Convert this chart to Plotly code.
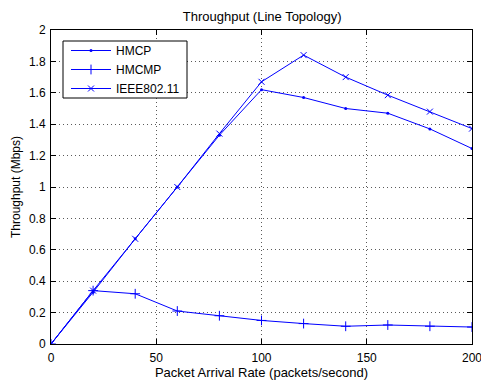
import plotly.graph_objects as go

rate = [0, 20, 40, 60, 80, 100, 120, 140, 160, 180, 200]
hmcp = [0, 0.33, 0.67, 1.00, 1.33, 1.62, 1.57, 1.50, 1.47, 1.37, 1.245]
hmcmp = [0, 0.34, 0.32, 0.21, 0.18, 0.15, 0.13, 0.113, 0.121, 0.113, 0.108]
ieee = [0, 0.34, 0.67, 1.00, 1.34, 1.67, 1.84, 1.70, 1.585, 1.48, 1.372]

blue = "rgb(0,0,255)"
fig = go.Figure()
fig.add_trace(go.Scatter(x=rate, y=hmcp, name="HMCP", mode="lines+markers",
                         line=dict(color=blue, width=1),
                         marker=dict(symbol="circle", size=3, color=blue)))
fig.add_trace(go.Scatter(x=rate, y=hmcmp, name="HMCMP", mode="lines+markers",
                         line=dict(color=blue, width=1),
                         marker=dict(symbol="cross-thin", size=7, color=blue,
                                     line=dict(color=blue, width=1))))
fig.add_trace(go.Scatter(x=rate, y=ieee, name="IEEE802.11", mode="lines+markers",
                         line=dict(color=blue, width=1),
                         marker=dict(symbol="x-thin", size=6, color=blue,
                                     line=dict(color=blue, width=1))))

axis_common = dict(showline=True, linecolor="black", linewidth=1, mirror="ticks",
                   ticks="inside", ticklen=5, tickcolor="black",
                   showgrid=True, gridcolor="rgb(90,90,90)", griddash="1px,3px", gridwidth=1,
                   zeroline=False, tickfont=dict(size=12, color="black"),
                   ticklabeloverflow="allow", automargin=False)

# plot area: 51..472 px horizontally, 30..344 px vertically
W, H = 481, 380
L, R, T, B = 51, 9, 30, 36
pw, ph = W - L - R, H - T - B

def px_x(p):
    return (p - L) / pw

def px_y(p):
    return (H - B - p) / ph

fig.update_layout(
    width=W, height=H,
    margin=dict(l=L, r=R, t=T, b=B, autoexpand=False),
    paper_bgcolor="white", plot_bgcolor="white",
    font=dict(family="Liberation Sans, Arial, sans-serif", size=12, color="black"),
    title=dict(text="Throughput (Line Topology)", x=0.545, xanchor="center",
               y=1 - 16 / H, yanchor="middle", font=dict(size=13)),
    xaxis=dict(range=[0, 200], dtick=50, ticklabelstandoff=3,
               title=dict(text="Packet Arrival Rate (packets/second)", standoff=5,
                          font=dict(size=13)), **axis_common),
    yaxis=dict(range=[0, 2], dtick=0.2, ticklabelstandoff=2,
               title=dict(text="Throughput (Mbps)", standoff=5, font=dict(size=12)),
               **axis_common),
    legend=dict(x=px_x(66), y=px_y(36), xanchor="left", yanchor="top",
                bgcolor="rgba(0,0,0,0)", borderwidth=0,
                font=dict(size=12), tracegroupgap=0, itemwidth=40),
    shapes=[dict(type="rect", xref="paper", yref="paper",
                 x0=px_x(63), x1=px_x(187), y0=px_y(98), y1=px_y(41),
                 line=dict(color="black", width=1), fillcolor="white", layer="above")],
    showlegend=True,
)

fig.write_html("out.html")
